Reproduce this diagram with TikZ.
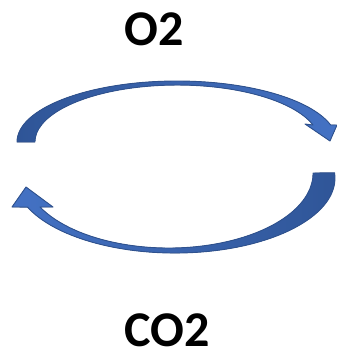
\documentclass[tikz,border=0pt]{standalone}
\usepackage{fontspec}
\setmainfont{Carlito}
\usepackage{tikz}
\usetikzlibrary{positioning,calc}

\definecolor{cycledark}{HTML}{2F5597}
\definecolor{cyclelight}{HTML}{4472C4}
\definecolor{cycleline}{HTML}{2F528F}

\tikzset{
    gaslabel/.style={font=\bfseries\fontsize{50}{50}\selectfont, inner sep=0pt},
    cyclearrow/.style={draw=cycleline, line width=0.9pt, line join=round}
}

\begin{document}
\begin{tikzpicture}[x=1pt, y=-1pt]
        \useasboundingbox (0,0) rectangle (337,354);

        \node[gaslabel] (o2) at (154,29) {O2};
        \node[gaslabel] (co2) at (167,330) {CO2};

        % upper arrow: tail at the left, head pointing down at the right
        \filldraw[cyclearrow, left color=cycledark, right color=cyclelight]
            (17,142) arc[start angle=180, end angle=16.2, x radius=160pt, y radius=61pt]
            -- (337,125) -- (330,141) -- (305,124) -- (313,125)
            arc[start angle=17.4, end angle=180, x radius=142.3pt, y radius=57pt] -- cycle;

        % lower arrow: tail at the right, head pointing up at the left
        \filldraw[cyclearrow, left color=cyclelight, right color=cycledark]
            (334.6,172.8) arc[start angle=4, end angle=-157.2, x radius=160pt, y radius=75pt]
            -- (12,207) -- (26,187) -- (53,207) -- (40,207)
            arc[start angle=-153.05, end angle=0, x radius=144.4pt, y radius=75pt] -- cycle;
    \end{tikzpicture}
\end{document}
